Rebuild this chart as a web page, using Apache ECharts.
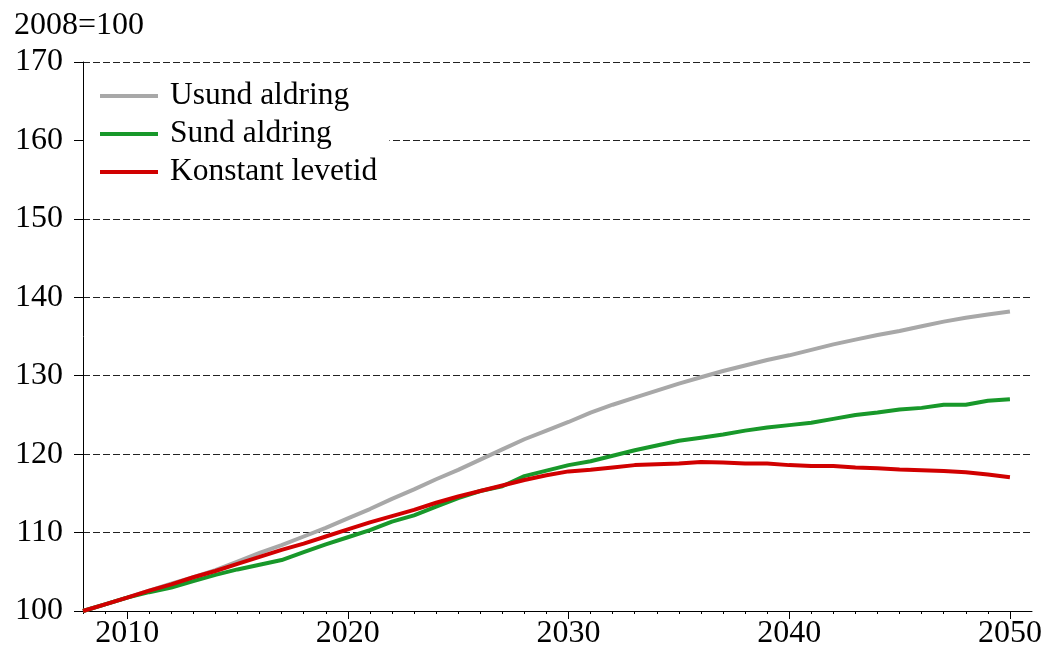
<!DOCTYPE html>
<html>
<head>
<meta charset="utf-8">
<script src="https://cdn.jsdelivr.net/npm/echarts@6/dist/echarts.min.js"></script>
<style>html,body{margin:0;padding:0;background:#fff}#c{width:1059px;height:652px}</style>
</head>
<body>
<div id="c"></div>
<script>
var years = [2008,2009,2010,2011,2012,2013,2014,2015,2016,2017,2018,2019,2020,2021,2022,2023,2024,2025,2026,2027,2028,2029,2030,2031,2032,2033,2034,2035,2036,2037,2038,2039,2040,2041,2042,2043,2044,2045,2046,2047,2048,2049,2050];
var usund = [100.0,100.85,101.7,102.6,103.5,104.3,105.2,106.3,107.4,108.4,109.5,110.6,111.8,113.0,114.3,115.5,116.8,118.0,119.3,120.6,121.9,123.0,124.1,125.3,126.3,127.2,128.1,129.0,129.8,130.6,131.3,132.0,132.6,133.3,134.0,134.6,135.2,135.7,136.3,136.9,137.4,137.8,138.2];
var sund = [100.0,100.85,101.7,102.4,103.0,103.8,104.6,105.3,105.9,106.5,107.5,108.5,109.4,110.3,111.4,112.2,113.3,114.4,115.3,115.9,117.2,117.9,118.6,119.1,119.8,120.5,121.1,121.7,122.1,122.5,123.0,123.4,123.7,124.0,124.5,125.0,125.3,125.7,125.9,126.3,126.3,126.8,127.0];
var konstant = [100.0,100.85,101.7,102.6,103.4,104.3,105.1,106.0,106.9,107.8,108.6,109.5,110.4,111.3,112.1,112.9,113.8,114.6,115.3,116.0,116.7,117.3,117.8,118.0,118.3,118.6,118.7,118.8,119.0,118.95,118.8,118.8,118.6,118.5,118.5,118.3,118.2,118.05,117.95,117.85,117.7,117.4,117.05];
var seriesNames = ['Usund aldring','Sund aldring','Konstant levetid'];
var xTickLabels = [2010,2020,2030,2040,2050];
var yTickLabels = [100,110,120,130,140,150,160,170];
var unitLabel = '2008=100';

function pairs(vals){ return years.map(function(y,i){ return [y, vals[i]]; }); }

var font = 'Liberation Serif';
var chart = echarts.init(document.getElementById('c'));
chart.setOption({
  animation: false,
  backgroundColor: '#fff',
  title: {
    text: unitLabel, left: 14, top: 10, padding: 0,
    textStyle: {fontFamily: font, fontSize: 32, fontWeight: 'normal', color: '#000'}
  },
  grid: {left: 83, right: 27, top: 62, bottom: 41},
  legend: {
    orient: 'vertical', left: 84, top: 70,
    padding: [10, 12, 12, 16],
    backgroundColor: '#fff',
    icon: 'rect', itemWidth: 58, itemHeight: 4, itemGap: 6,
    data: seriesNames,
    textStyle: {fontFamily: font, fontSize: 31.5, lineHeight: 31, color: '#000', padding: [0,0,0,7]},
    z: 10
  },
  xAxis: [{
    type: 'value', min: 2008, max: 2051,
    axisLine: {show: true, lineStyle: {color: '#000', width: 1}},
    axisTick: {show: true, customValues: xTickLabels, length: 8, inside: false, lineStyle: {color: '#000'}},
    axisLabel: {customValues: xTickLabels, margin: 7, fontFamily: font, fontSize: 32, color: '#000',
      formatter: function(v){ return String(v); }},
    splitLine: {show: false}
  }, {
    type: 'value', min: 2008, max: 2051, position: 'bottom', offset: 0,
    axisLine: {show: false},
    axisTick: {show: true, customValues: years, length: 3, lineStyle: {color: '#000'}},
    axisLabel: {show: false},
    splitLine: {show: false}
  }],
  yAxis: {
    type: 'value', min: 100, max: 170, interval: 10,
    axisLine: {show: true, lineStyle: {color: '#000', width: 1}},
    axisTick: {show: true, length: 9, lineStyle: {color: '#000'}},
    axisLabel: {margin: 20, fontFamily: font, fontSize: 32, color: '#000'},
    splitLine: {show: true, lineStyle: {color: '#222', width: 1, type: [7, 3]}}
  },
  series: [
    {name: seriesNames[0], type: 'line', data: pairs(usund), showSymbol: false, symbol: 'none',
      lineStyle: {color: '#a8a8a8', width: 4}, itemStyle: {color: '#a8a8a8'}, z: 2},
    {name: seriesNames[1], type: 'line', data: pairs(sund), showSymbol: false, symbol: 'none',
      lineStyle: {color: '#18982a', width: 4}, itemStyle: {color: '#18982a'}, z: 3},
    {name: seriesNames[2], type: 'line', data: pairs(konstant), showSymbol: false, symbol: 'none',
      lineStyle: {color: '#d10000', width: 4}, itemStyle: {color: '#d10000'}, z: 4}
  ]
});
</script>
</body>
</html>
